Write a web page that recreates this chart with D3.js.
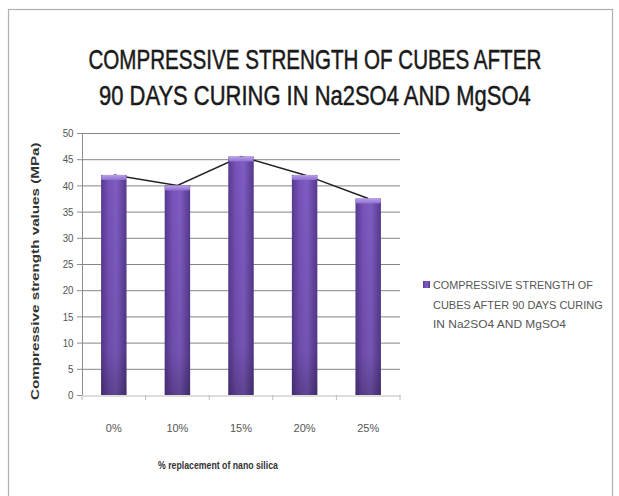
<!DOCTYPE html>
<html>
<head>
<meta charset="utf-8">
<script src="https://cdn.jsdelivr.net/npm/d3@7"></script>
<style>
  html, body { margin: 0; padding: 0; background: #fff; }
  svg { display: block; }
  text { font-family: "Liberation Sans", Arial, sans-serif; }
</style>
</head>
<body>
<svg id="chart" width="619" height="496"></svg>
<script>
// Nano silica replacement levels and compressive strength (MPa)
const categories = ["0%", "10%", "15%", "20%", "25%"];
const strength = [42, 40, 45.5, 42, 37.5];
const yTicks = [0, 5, 10, 15, 20, 25, 30, 35, 40, 45, 50];
const titleLines = ["COMPRESSIVE STRENGTH OF CUBES AFTER", "90 DAYS CURING IN Na2SO4 AND MgSO4"];
const legendLines = ["COMPRESSIVE STRENGTH  OF", "CUBES AFTER 90 DAYS CURING", "IN Na2SO4 AND MgSO4"];
const xTitle = "% replacement of nano silica";
const yTitle = "Compressive strength values (MPa)";

const svg = d3.select("#chart");

// squeeze a text horizontally so it spans the given width, anchored at (x, y)
function fitText(sel, x, y, width, anchor) {
  sel.each(function () {
    const natural = this.getComputedTextLength();
    const k = width / natural;
    const x0 = anchor === "middle" ? x - width / 2 : x;
    d3.select(this).attr("x", 0).attr("y", 0)
      .attr("transform", `translate(${x0},${y}) scale(${k},1)`);
  });
}

// chart frame
svg.append("rect")
  .attr("x", 8.5).attr("y", 9.5).attr("width", 604).attr("height", 490)
  .attr("fill", "#fff").attr("stroke", "#b0b0b0").attr("stroke-width", 1.2);

const plot = { left: 82, right: 400, top: 133, bottom: 395 };

const x = d3.scaleBand().domain(categories).range([plot.left, plot.right]).paddingInner(0).paddingOuter(0);
const y = d3.scaleLinear().domain([0, 50]).range([plot.bottom, plot.top]);

// gradients for the bar body and its top cap
const defs = svg.append("defs");
const body = defs.append("linearGradient").attr("id", "barBody").attr("x1", 0).attr("x2", 1).attr("y1", 0).attr("y2", 0);
body.append("stop").attr("offset", "0%").attr("stop-color", "#573a90");
body.append("stop").attr("offset", "30%").attr("stop-color", "#7752b8");
body.append("stop").attr("offset", "60%").attr("stop-color", "#7f5cc2");
body.append("stop").attr("offset", "100%").attr("stop-color", "#55398d");
const shade = defs.append("linearGradient").attr("id", "barShade").attr("x1", 0).attr("x2", 0).attr("y1", 0).attr("y2", 1);
shade.append("stop").attr("offset", "0%").attr("stop-color", "#000").attr("stop-opacity", 0);
shade.append("stop").attr("offset", "80%").attr("stop-color", "#000").attr("stop-opacity", 0.08);
shade.append("stop").attr("offset", "100%").attr("stop-color", "#000").attr("stop-opacity", 0.25);
const cap = defs.append("linearGradient").attr("id", "barCap").attr("x1", 0).attr("x2", 0).attr("y1", 0).attr("y2", 1);
cap.append("stop").attr("offset", "0%").attr("stop-color", "#b9a0e8");
cap.append("stop").attr("offset", "100%").attr("stop-color", "#8f6ed0");

// value axis with tick marks
const yAxis = d3.axisLeft(y).tickValues(yTicks).tickSize(5).tickSizeOuter(0).tickFormat(d3.format("d"));
const gy = svg.append("g").attr("transform", `translate(${plot.left},0)`).call(yAxis);
gy.select(".domain").attr("stroke", "#8c8c8c");
gy.selectAll(".tick line").attr("stroke", "#8c8c8c");
gy.selectAll(".tick text").attr("fill", "#555").attr("font-size", 11.5).attr("x", -10)
  .attr("transform", "scale(0.85,1)");

// horizontal gridlines
svg.append("g").selectAll("line").data(yTicks.filter(d => d > 0)).join("line")
  .attr("x1", plot.left).attr("x2", plot.right)
  .attr("y1", d => y(d) + 0.5).attr("y2", d => y(d) + 0.5)
  .attr("stroke", "#858585").attr("stroke-width", 1);

// category axis
const xAxis = d3.axisBottom(x).tickSize(0).tickSizeOuter(0);
const gx = svg.append("g").attr("transform", `translate(0,${plot.bottom + 0.5})`).call(xAxis);
gx.select(".domain").attr("stroke", "#bcbcbc");
gx.selectAll(".tick text").attr("fill", "#555").attr("font-size", 11).attr("dy", "3em");
// boundary tick marks between categories
svg.append("g").selectAll("line")
  .data(categories.map(c => x(c)).concat([plot.right]))
  .join("line")
  .attr("x1", d => d).attr("x2", d => d)
  .attr("y1", plot.bottom).attr("y2", plot.bottom + 5)
  .attr("stroke", "#bcbcbc");

// trend line through the bar tops, behind the bars
const line = d3.line().x((d, i) => x(categories[i]) + x.bandwidth() / 2).y(d => y(d));
svg.append("path").datum(strength).attr("d", line)
  .attr("fill", "none").attr("stroke", "#222").attr("stroke-width", 1.5);

// bars
const barW = x.bandwidth() * 0.4;
const bars = svg.append("g").selectAll("g").data(strength).join("g")
  .attr("transform", (d, i) => `translate(${x(categories[i]) + (x.bandwidth() - barW) / 2},0)`);
bars.append("rect")
  .attr("x", 0).attr("width", barW)
  .attr("y", d => y(d)).attr("height", d => y(0) - y(d))
  .attr("fill", "url(#barBody)");
bars.append("rect")
  .attr("x", 0).attr("width", barW)
  .attr("y", d => y(d)).attr("height", d => y(0) - y(d))
  .attr("fill", "url(#barShade)");
bars.append("rect")
  .attr("x", 0).attr("width", barW)
  .attr("y", d => y(d)).attr("height", 5)
  .attr("rx", 2)
  .attr("fill", "url(#barCap)");

// title
const titleWidths = [453, 432];
svg.append("g").selectAll("text").data(titleLines).join("text")
  .attr("font-size", 28).attr("fill", "#1a1a1a")
  .attr("stroke", "#1a1a1a").attr("stroke-width", 0.5)
  .text(d => d)
  .each(function (d, i) { fitText(d3.select(this), 315, 69 + i * 36, titleWidths[i], "middle"); });

// axis titles
svg.append("text")
  .attr("font-size", 11.5).attr("font-weight", "bold").attr("fill", "#333")
  .text(xTitle)
  .call(fitText, 158, 469, 120, "start");
svg.append("g").attr("transform", "translate(39,400) rotate(-90)")
  .append("text")
  .attr("font-size", 11.5).attr("font-weight", "bold").attr("fill", "#333")
  .text(yTitle)
  .call(fitText, 0, 0, 258, "start");

// legend
const legendWidths = [160, 170, 133];
const lg = svg.append("g").attr("transform", "translate(423,281)");
lg.append("rect").attr("x", 0).attr("y", 0).attr("width", 7).attr("height", 7).attr("fill", "url(#barBody)");
lg.selectAll("text").data(legendLines).join("text")
  .attr("font-size", 11).attr("fill", "#555")
  .text(d => d)
  .each(function (d, i) { fitText(d3.select(this), 10, 8 + i * 19.5, legendWidths[i], "start"); });
</script>
</body>
</html>
